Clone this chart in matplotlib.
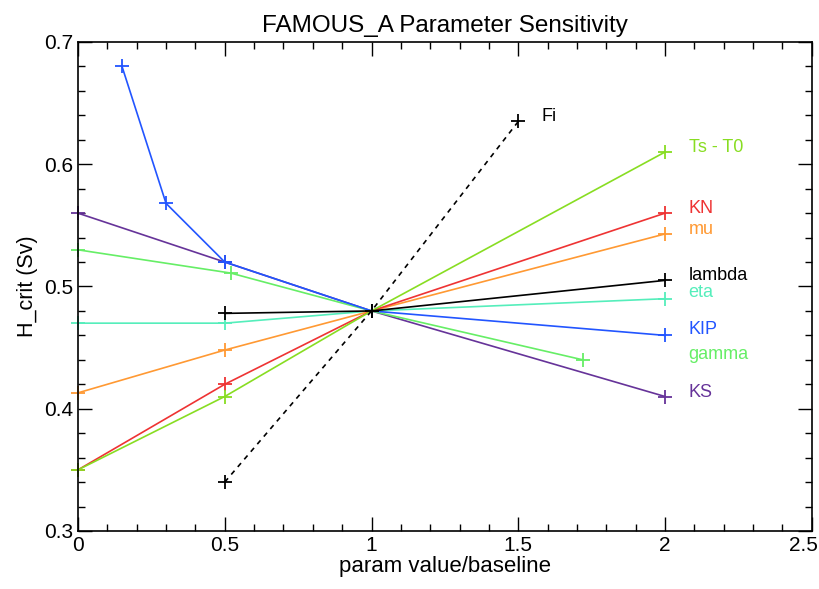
import matplotlib
matplotlib.use("Agg")
import matplotlib.pyplot as plt
import matplotlib.transforms as mtransforms
from matplotlib.ticker import MultipleLocator

plt.rcParams['font.family'] = ['Liberation Sans', 'DejaVu Sans']

# sensitivity runs: x = param value / baseline, y = H_crit (Sv)
kip_x = [0.15, 0.3, 0.5, 1.0, 2.0]
kip_y = [0.680, 0.568, 0.520, 0.480, 0.460]
ks_x = [0.0, 0.5, 1.0, 2.0]
ks_y = [0.560, 0.520, 0.480, 0.410]
gamma_x = [0.0, 0.52, 1.0, 1.72]
gamma_y = [0.530, 0.511, 0.480, 0.440]
lambda_x = [0.5, 1.0, 2.0]
lambda_y = [0.478, 0.480, 0.505]
eta_x = [0.0, 0.5, 1.0, 2.0]
eta_y = [0.470, 0.470, 0.480, 0.490]
mu_x = [0.0, 0.5, 1.0, 2.0]
mu_y = [0.413, 0.448, 0.480, 0.543]
kn_x = [0.0, 0.5, 1.0, 2.0]
kn_y = [0.350, 0.420, 0.480, 0.560]
ts_x = [0.0, 0.5, 1.0, 2.0]
ts_y = [0.350, 0.410, 0.480, 0.610]
fi_x = [0.5, 1.0, 1.5]
fi_y = [0.340, 0.480, 0.635]

# label name, colour, x, y
labels = [
    ("Ts - T0", "#88dd22", 2.08, 0.614),
    ("KN", "#ee3333", 2.08, 0.564),
    ("mu", "#ff9933", 2.08, 0.547),
    ("lambda", "black", 2.08, 0.509),
    ("eta", "#55eebb", 2.08, 0.495),
    ("KIP", "#2255ff", 2.08, 0.465),
    ("gamma", "#66ee66", 2.08, 0.444),
    ("KS", "#663399", 2.08, 0.413),
    ("Fi", "black", 1.58, 0.639),
]

xticks = [0, 0.5, 1, 1.5, 2, 2.5]
xticklabels = ["0", "0.5", "1", "1.5", "2", "2.5"]
yticks = [0.3, 0.4, 0.5, 0.6, 0.7]
yticklabels = ["0.3", "0.4", "0.5", "0.6", "0.7"]

fig = plt.figure(figsize=(8.2, 5.89), dpi=100)
ax = fig.add_axes([0.0951, 0.0985, 0.8949, 0.8302])

kw = dict(marker='+', markersize=10, markeredgewidth=1.3, linewidth=1.2, clip_on=False)
ax.plot(ks_x, ks_y, color="#663399", **kw)
ax.plot(gamma_x, gamma_y, color="#66ee66", **kw)
ax.plot(eta_x, eta_y, color="#55eebb", **kw)
ax.plot(mu_x, mu_y, color="#ff9933", **kw)
ax.plot(kn_x, kn_y, color="#ee3333", **kw)
ax.plot(ts_x, ts_y, color="#88dd22", **kw)
ax.plot(kip_x, kip_y, color="#2255ff", **kw)
ax.plot(lambda_x, lambda_y, color="black", **kw)
ax.plot(fi_x, fi_y, color="black", linestyle='--', dashes=(3, 3), **kw)

for name, c, x, y in labels:
    ax.text(x, y, name, color=c, fontsize=13, va='center', ha='left')

ax.set_xlim(0, 2.5)
ax.set_ylim(0.3, 0.7)
ax.xaxis.set_minor_locator(MultipleLocator(0.1))
ax.yaxis.set_minor_locator(MultipleLocator(0.02))
ax.set_xticks(xticks)
ax.set_xticklabels(xticklabels)
ax.set_yticks(yticks)
ax.set_yticklabels(yticklabels)
ax.tick_params(which='both', direction='in', top=True, right=True, labelsize=15, width=1)
ax.tick_params(which='major', length=10)
ax.tick_params(which='minor', length=5)
for s in ax.spines.values():
    s.set_linewidth(1.2)

# keep the last x tick label inside the figure
last = ax.get_xticklabels()[-1]
last.set_transform(last.get_transform() + mtransforms.ScaledTranslation(-8 / 100, 0, fig.dpi_scale_trans))

ax.set_xlabel("param value/baseline", fontsize=16, labelpad=1)
ax.set_ylabel("H_crit (Sv)", fontsize=15.5, labelpad=4)
ax.set_title("FAMOUS_A Parameter Sensitivity", fontsize=17.5, pad=7)

fig.savefig("out.png", dpi=100)
